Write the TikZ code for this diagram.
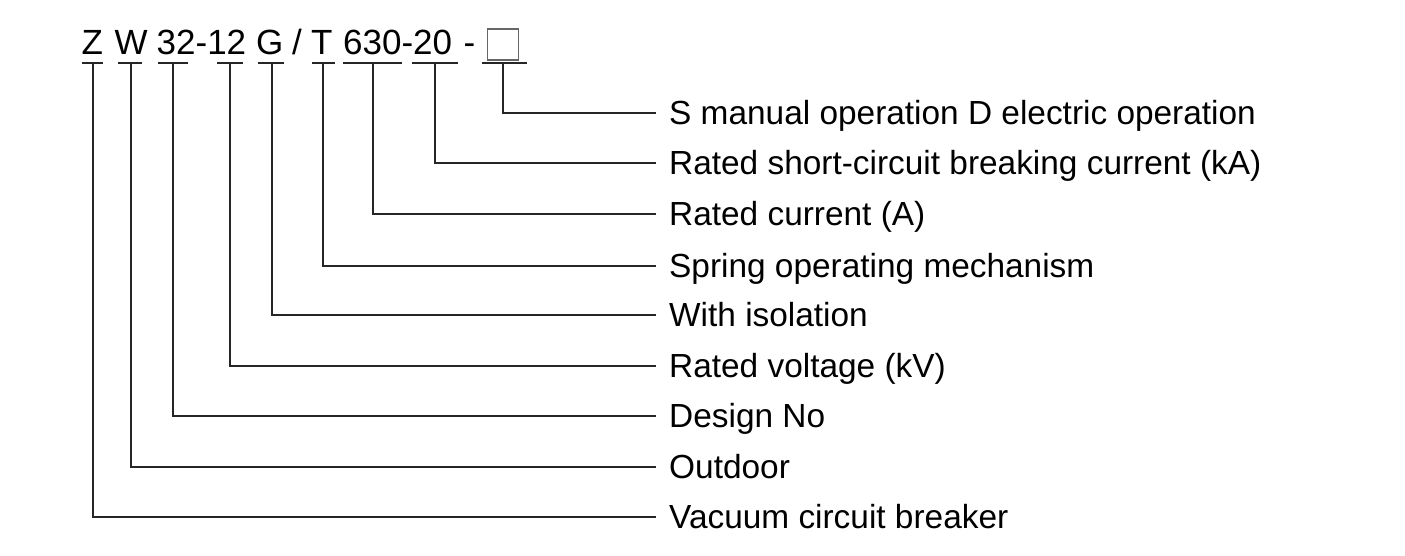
\documentclass[tikz,border=0pt]{standalone}
\usepackage{fontspec}
\setmainfont{Liberation Sans}
\begin{document}
\begin{tikzpicture}[x=1pt,y=-1pt,
  tok/.style={anchor=base west,inner sep=0pt,font=\fontsize{35}{40}\selectfont},
  lbl/.style={anchor=west,inner sep=0pt,text height=23.6pt,text depth=0pt,font=\fontsize{33.4}{40}\selectfont},
  ln/.style={draw=black!85,line width=2pt},
  conn/.style={ln,shorten >=13pt},
  ]
\useasboundingbox (0,0) rectangle (1405,556);
% code tokens
\node[tok] (tZ) at (81.5,55) {Z};
\node[tok] (tW) at (114.5,55) {W};
\node[tok] (t32) at (156.5,55) {32-12};
\node[tok] (tG) at (256,55) {G};
\node[tok] (tS) at (292,55) {/};
\node[tok] (tT) at (311,55) {T};
\node[tok] (t630) at (343,55) {630-};
\node[tok] (t20) at (413,55) {20};
\node[tok] (tD) at (463.5,55) {-};
\node[draw=black!60,line width=1.3pt,minimum width=31pt,minimum height=31pt,inner sep=0pt] (box) at (503,44.5) {};
% underlines
\draw[ln] (82,62.7) -- (103,62.7);
\draw[ln] (118,62.7) -- (142,62.7);
\draw[ln] (158,62.7) -- (188,62.7);
\draw[ln] (217,62.7) -- (243,62.7);
\draw[ln] (258,62.7) -- (284,62.7);
\draw[ln] (312,62.7) -- (335,62.7);
\draw[ln] (343,62.7) -- (402,62.7);
\draw[ln] (412,62.7) -- (458,62.7);
\draw[ln] (482,62.7) -- (527,62.7);
% connector start points
\coordinate (u1) at (92.5,62.7);
\coordinate (u2) at (130.5,62.7);
\coordinate (u3) at (173,62.7);
\coordinate (u4) at (230,62.7);
\coordinate (u5) at (272,62.7);
\coordinate (u6) at (323,62.7);
\coordinate (u7) at (373,62.7);
\coordinate (u8) at (435,62.7);
\coordinate (u9) at (503,62.7);
% labels
\node[lbl] (l9) at (669,113) {S manual operation D electric operation};
\node[lbl] (l8) at (669,163) {Rated short-circuit breaking current (kA)};
\node[lbl] (l7) at (669,214) {Rated current (A)};
\node[lbl] (l6) at (669,265.5) {Spring operating mechanism};
\node[lbl] (l5) at (669,314.5) {With isolation};
\node[lbl] (l4) at (669,366) {Rated voltage (kV)};
\node[lbl] (l3) at (669,416) {Design No};
\node[lbl] (l2) at (669,467) {Outdoor};
\node[lbl] (l1) at (669,517) {Vacuum circuit breaker};
% connectors
\draw[conn] (u9) |- (l9.west);
\draw[conn] (u8) |- (l8.west);
\draw[conn] (u7) |- (l7.west);
\draw[conn] (u6) |- (l6.west);
\draw[conn] (u5) |- (l5.west);
\draw[conn] (u4) |- (l4.west);
\draw[conn] (u3) |- (l3.west);
\draw[conn] (u2) |- (l2.west);
\draw[conn] (u1) |- (l1.west);
\end{tikzpicture}
\end{document}
